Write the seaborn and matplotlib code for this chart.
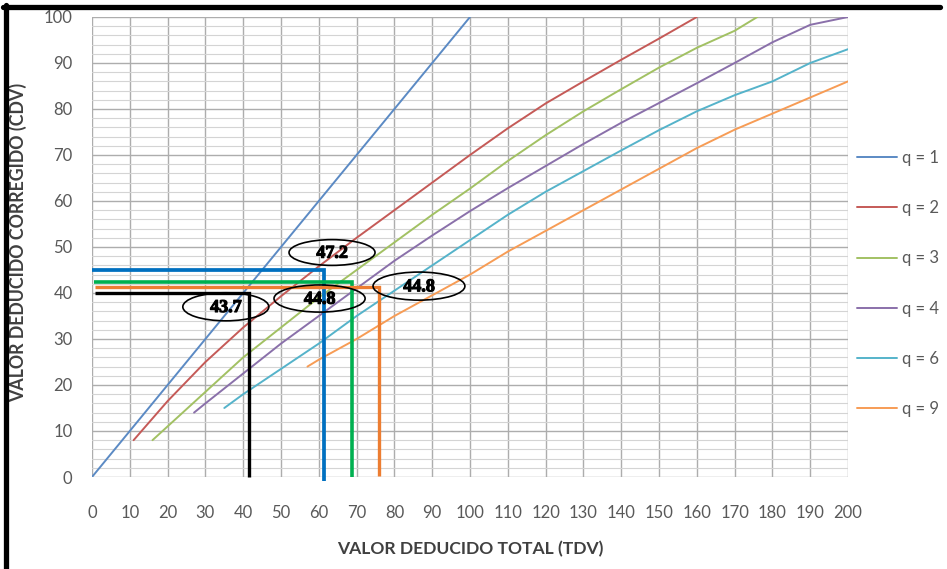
import matplotlib
matplotlib.use("Agg")
import matplotlib.pyplot as plt
import matplotlib.patheffects as pe
from matplotlib.patches import Ellipse
from matplotlib.lines import Line2D
import seaborn as sns
import pandas as pd

# ---------------- data ----------------
q_labels = ["q = 1", "q = 2", "q = 3", "q = 4", "q = 6", "q = 9"]

q1_tdv = [0, 100]
q1_cdv = [0, 100]

q2_tdv = [11, 20, 30, 40, 50, 60, 70, 80, 90, 100, 110, 120, 130, 140, 150, 160]
q2_cdv = [8, 16.5, 25, 32.5, 39.3, 45.8, 52, 58, 64, 70, 75.8, 81.2, 86, 90.7, 95.3, 100]

q3_tdv = [16, 20, 30, 40, 50, 60, 70, 80, 90, 100, 110, 120, 130, 140, 150, 160, 170, 176]
q3_cdv = [8, 11, 18.5, 26, 32.5, 39, 45, 51, 57, 62.7, 68.7, 74.3, 79.5, 84.3, 89, 93.3, 97, 100]

q4_tdv = [27, 30, 40, 50, 60, 70, 80, 90, 100, 110, 120, 130, 140, 150, 160, 170, 180, 190, 200]
q4_cdv = [14, 16, 22.5, 29, 35, 41, 47, 52.5, 57.8, 62.8, 67.6, 72.4, 77, 81.3, 85.6, 90, 94.5, 98.3, 100]

q6_tdv = [35, 40, 50, 60, 70, 80, 90, 100, 110, 120, 130, 140, 150, 160, 170, 180, 190, 200]
q6_cdv = [15, 18, 23.5, 29, 35, 40.5, 46, 51.5, 57, 62, 66.5, 71, 75.4, 79.5, 83, 86, 90, 93]

q9_tdv = [57, 60, 70, 80, 90, 100, 110, 120, 130, 140, 150, 160, 170, 180, 190, 200]
q9_cdv = [24, 25.5, 30, 35, 39.5, 44, 49, 53.5, 58, 62.5, 67, 71.5, 75.5, 79, 82.5, 86]

guide_tdv = [41.6, 61.5, 68.8, 76.0]
guide_cdv = [40.1, 45.0, 42.3, 41.2]
guide_labels = ["43.7", "47.2", "44.8", "44.8"]

x_ticks = list(range(0, 201, 10))
y_ticks = list(range(0, 101, 10))
y_minor = list(range(0, 101, 2))

# ---------------- styles ----------------
curve_colors = ["#5B8AC4", "#C55A57", "#A2C163", "#8A70AA", "#55B3CA", "#F79C55"]
guide_colors = ["#000000", "#0070C0", "#00B050", "#ED7D31"]

sns.set_style("white")
plt.rcParams["font.family"] = ["Lato", "DejaVu Sans"]

frames = []
for tx, cy, lab in zip([q1_tdv, q2_tdv, q3_tdv, q4_tdv, q6_tdv, q9_tdv],
                       [q1_cdv, q2_cdv, q3_cdv, q4_cdv, q6_cdv, q9_cdv], q_labels):
    frames.append(pd.DataFrame({"TDV": tx, "CDV": cy, "q": lab}))
df = pd.concat(frames, ignore_index=True)

W, H = 947, 569
fig = plt.figure(figsize=(W / 100, H / 100), dpi=100)
fig.patch.set_facecolor("white")
ax = fig.add_axes([92 / W, 1 - 477 / H, (848 - 92) / W, (477 - 17) / H])

sns.lineplot(data=df, x="TDV", y="CDV", hue="q", hue_order=q_labels,
             palette=curve_colors, estimator=None, sort=False, lw=1.4, ax=ax)

ax.set_xlim(0, 200)
ax.set_ylim(0, 100)
ax.set_xticks(x_ticks)
ax.set_yticks(y_ticks)
ax.set_yticks(y_minor, minor=True)
ax.grid(which="major", color="#ADADAD", lw=1.0)
ax.grid(which="minor", axis="y", color="#D4D4D4", lw=0.8)
ax.set_axisbelow(True)
for s in ax.spines.values():
    s.set_visible(False)
ax.tick_params(axis="x", which="major", length=5, width=1.0, color="#ADADAD",
               pad=15, labelsize=12, labelcolor="#595959")
ax.tick_params(axis="y", which="both", length=0, pad=14, labelsize=12,
               labelcolor="#595959")

ax.set_xlabel("VALOR DEDUCIDO TOTAL (TDV)", fontsize=12.6, fontweight="bold", color="#404040")
ax.set_ylabel("VALOR DEDUCIDO CORREGIDO (CDV)", fontsize=12.8, fontweight="bold", color="#404040")
ax.xaxis.set_label_coords(0.5, (477 - 549) / 460)
ax.xaxis.label.set_va("center")
ax.yaxis.set_label_coords((18 - 92) / 756, (477 - 242) / 460)
ax.yaxis.label.set_va("center")
ax.yaxis.label.set_ha("center")

# guide lines
x_starts = [0.8, 0.0, 0.5, 0.8]
y_ends = [0.0, -0.9, 0.0, 0.3]
widths = [2.4, 2.7, 2.6, 2.4]
for xv, yh, col, x0, y1, lw in zip(guide_tdv, guide_cdv, guide_colors, x_starts, y_ends, widths):
    ax.plot([x0, xv, xv], [yh, yh, y1], color=col, lw=lw, zorder=5,
            solid_joinstyle="miter", solid_capstyle="butt", clip_on=False)

# ellipses with labels
ell_specs = [(35.4, 37.0, 22.75, 6.1), (63.5, 48.8, 22.75, 5.6),
             (60.2, 38.8, 24.1, 5.9), (86.5, 41.5, 24.3, 6.1)]
for (cx, cy, w, h), lab in zip(ell_specs, guide_labels):
    ax.add_patch(Ellipse((cx, cy), w, h, fill=False, ec="black", lw=1.2, zorder=6))
    ax.text(cx, cy - 0.15, lab, ha="center", va="center", fontsize=13, color="black",
            fontweight="bold", family=["Liberation Serif", "DejaVu Serif"], zorder=7,
            path_effects=[pe.withStroke(linewidth=0.8, foreground="black")])

# legend
handles, labels = ax.get_legend_handles_labels()
ax.legend(handles, labels, loc="center left", bbox_to_anchor=(857 / W, 1 - 283.5 / H),
          bbox_transform=fig.transFigure, frameon=False, fontsize=12,
          handlelength=2.4, handletextpad=0.3, labelspacing=2.05,
          borderpad=0, borderaxespad=0, labelcolor="#595959")

# figure border (top and left)
fig.add_artist(Line2D([3 / W, 940 / W], [1 - 7 / H, 1 - 7 / H], color="black", lw=3.8,
                      transform=fig.transFigure))
fig.add_artist(Line2D([6 / W, 6 / W], [0, 1 - 5 / H], color="black", lw=3.8,
                      transform=fig.transFigure))

fig.savefig("out.png", dpi=100, facecolor="white")
